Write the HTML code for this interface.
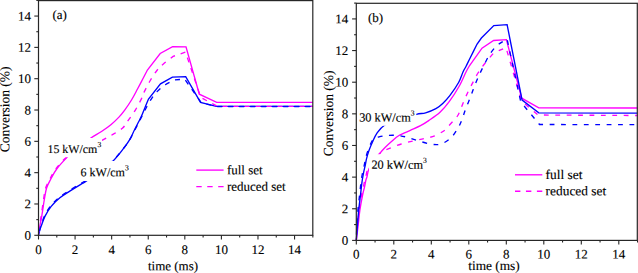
<!DOCTYPE html>
<html><head><meta charset="utf-8"><style>
html,body{margin:0;padding:0;background:#fff;width:638px;height:273px;overflow:hidden}
svg{display:block;font-family:"Liberation Serif",serif;fill:#111}
svg text{fill:#000;stroke:#000;stroke-width:0.13px}
</style></head><body>
<svg width="638" height="273" viewBox="0 0 638 273">
<path d="M38.50,235.30 C38.63,234.25 38.75,232.23 39.30,229.00 C39.85,225.77 40.95,220.90 41.80,215.90 C42.65,210.90 43.60,203.65 44.40,199.00 C45.20,194.35 45.55,191.28 46.60,188.00 C47.65,184.72 49.02,182.47 50.70,179.30 C52.38,176.13 53.98,172.65 56.70,169.00 C59.42,165.35 63.45,161.07 67.00,157.40 C70.55,153.73 74.08,150.20 78.00,147.00 C81.92,143.80 86.58,140.78 90.50,138.20 C94.42,135.62 98.10,133.75 101.50,131.50 C104.90,129.25 108.03,127.05 110.90,124.70 C113.77,122.35 116.40,119.83 118.70,117.40 C121.00,114.97 122.57,113.00 124.70,110.10 C126.83,107.20 129.37,103.52 131.50,100.00 C133.63,96.48 135.67,92.42 137.50,89.00 C139.33,85.58 140.85,82.67 142.50,79.50 C144.15,76.33 146.58,71.58 147.40,70.00 L160.20,53.50 L172.60,46.60 L186.00,46.80 L199.30,94.20 L216.70,102.30 L312.80,102.30" fill="none" stroke="#ff00ff" stroke-width="1.35" stroke-linejoin="miter"/>
<path d="M38.50,235.30 C38.72,234.42 39.25,231.80 39.80,230.00 C40.35,228.20 40.90,226.85 41.80,224.50 C42.70,222.15 43.63,218.92 45.20,215.90 C46.77,212.88 48.75,209.42 51.20,206.40 C53.65,203.38 56.73,200.38 59.90,197.80 C63.07,195.22 66.72,193.15 70.20,190.90 C73.68,188.65 78.08,185.95 80.80,184.30 C83.52,182.65 83.30,183.22 86.50,181.00 C89.70,178.78 95.58,174.33 100.00,171.00 C104.42,167.67 109.07,164.77 113.00,161.00 C116.93,157.23 120.87,151.87 123.60,148.40 C126.33,144.93 127.62,143.22 129.40,140.20 C131.18,137.18 132.78,133.33 134.30,130.30 C135.82,127.27 137.30,124.38 138.50,122.00 C139.70,119.62 140.37,118.55 141.50,116.00 C142.63,113.45 144.13,109.53 145.30,106.70 C146.47,103.87 147.97,100.28 148.50,99.00 L160.50,83.80 L172.40,77.10 L185.70,76.60 L200.50,102.30 L216.20,106.40 L312.80,106.40" fill="none" stroke="#0000ff" stroke-width="1.35" stroke-linejoin="miter"/>
<path d="M38.50,235.30 C38.60,234.25 38.65,232.23 39.10,229.00 C39.55,225.77 40.45,220.90 41.20,215.90 C41.95,210.90 42.85,203.65 43.60,199.00 C44.35,194.35 44.67,191.28 45.70,188.00 C46.73,184.72 48.12,182.47 49.80,179.30 C51.48,176.13 53.02,172.65 55.80,169.00 C58.58,165.35 62.47,160.57 66.50,157.40 C70.53,154.23 75.75,152.07 80.00,150.00 C84.25,147.93 88.27,146.65 92.00,145.00 C95.73,143.35 98.92,141.87 102.40,140.10 C105.88,138.33 109.57,136.38 112.90,134.40 C116.23,132.42 120.03,130.27 122.40,128.20 C124.77,126.13 124.92,125.07 127.10,122.00 C129.28,118.93 133.12,113.65 135.50,109.80 C137.88,105.95 139.98,101.80 141.40,98.90 C142.82,96.00 142.57,95.38 144.00,92.40 C145.43,89.42 147.78,84.73 150.00,81.00 C152.22,77.27 155.07,72.83 157.30,70.00 C159.53,67.17 160.77,66.27 163.40,64.00 C166.03,61.73 171.48,57.67 173.10,56.40 L185.50,52.10 L200.80,97.50 L217.50,106.40 L312.80,106.40" fill="none" stroke="#ff00ff" stroke-width="1.35" stroke-linejoin="miter" stroke-dasharray="5 6" stroke-dashoffset="7.60" id="amd"/>
<path d="M38.50,235.30 C38.68,234.42 39.12,231.80 39.60,230.00 C40.08,228.20 40.55,226.90 41.40,224.50 C42.25,222.10 43.15,218.72 44.70,215.60 C46.25,212.48 48.23,208.88 50.70,205.80 C53.17,202.72 56.30,199.72 59.50,197.10 C62.70,194.48 66.38,192.37 69.90,190.10 C73.42,187.83 77.87,185.15 80.60,183.50 C83.33,181.85 83.07,182.40 86.30,180.20 C89.53,178.00 95.55,173.58 100.00,170.30 C104.45,167.02 109.03,164.22 113.00,160.50 C116.97,156.78 121.00,151.47 123.80,148.00 C126.60,144.53 127.97,142.70 129.80,139.70 C131.63,136.70 133.27,132.95 134.80,130.00 C136.33,127.05 137.77,124.37 139.00,122.00 C140.23,119.63 141.10,117.97 142.20,115.80 C143.30,113.63 144.23,111.58 145.60,109.00 C146.97,106.42 148.53,103.15 150.40,100.30 C152.27,97.45 154.32,94.48 156.80,91.90 C159.28,89.32 162.30,86.80 165.30,84.80 C168.30,82.80 173.22,80.72 174.80,79.90 L184.70,79.20 L201.50,103.00 L217.50,106.50 L312.80,106.50" fill="none" stroke="#0000ff" stroke-width="1.35" stroke-linejoin="miter" stroke-dasharray="5 6" stroke-dashoffset="6.82" id="abd"/>
<rect x="45" y="138" width="57.00" height="19.20" fill="#fff"/><text x="47.50" y="152.90" font-size="11.9" transform="rotate(0.05 47.50 152.90)">15 kW/cm<tspan font-size="7.6" dy="-6">3</tspan></text>
<rect x="78" y="161" width="53.00" height="20.00" fill="#fff"/><text x="80.60" y="176.20" font-size="12.0" transform="rotate(0.05 80.60 176.20)">6 kW/cm<tspan font-size="7.6" dy="-6">3</tspan></text>
<rect x="38.5" y="0.6" width="274.30" height="234.70" fill="none" stroke="#262626" stroke-width="1.2"/>
<line x1="38.50" y1="235.3" x2="38.50" y2="239.50" stroke="#262626" stroke-width="1.1"/>
<text x="38.50" y="254.00" font-size="13" text-anchor="middle" transform="rotate(0.05 38.50 254.00)">0</text>
<line x1="56.79" y1="235.3" x2="56.79" y2="237.50" stroke="#262626" stroke-width="1.1"/>
<line x1="75.08" y1="235.3" x2="75.08" y2="239.50" stroke="#262626" stroke-width="1.1"/>
<text x="75.08" y="254.00" font-size="13" text-anchor="middle" transform="rotate(0.05 75.08 254.00)">2</text>
<line x1="93.37" y1="235.3" x2="93.37" y2="237.50" stroke="#262626" stroke-width="1.1"/>
<line x1="111.66" y1="235.3" x2="111.66" y2="239.50" stroke="#262626" stroke-width="1.1"/>
<text x="111.66" y="254.00" font-size="13" text-anchor="middle" transform="rotate(0.05 111.66 254.00)">4</text>
<line x1="129.95" y1="235.3" x2="129.95" y2="237.50" stroke="#262626" stroke-width="1.1"/>
<line x1="148.24" y1="235.3" x2="148.24" y2="239.50" stroke="#262626" stroke-width="1.1"/>
<text x="148.24" y="254.00" font-size="13" text-anchor="middle" transform="rotate(0.05 148.24 254.00)">6</text>
<line x1="166.53" y1="235.3" x2="166.53" y2="237.50" stroke="#262626" stroke-width="1.1"/>
<line x1="184.82" y1="235.3" x2="184.82" y2="239.50" stroke="#262626" stroke-width="1.1"/>
<text x="184.82" y="254.00" font-size="13" text-anchor="middle" transform="rotate(0.05 184.82 254.00)">8</text>
<line x1="203.11" y1="235.3" x2="203.11" y2="237.50" stroke="#262626" stroke-width="1.1"/>
<line x1="221.40" y1="235.3" x2="221.40" y2="239.50" stroke="#262626" stroke-width="1.1"/>
<text x="221.40" y="254.00" font-size="13" text-anchor="middle" transform="rotate(0.05 221.40 254.00)">10</text>
<line x1="239.69" y1="235.3" x2="239.69" y2="237.50" stroke="#262626" stroke-width="1.1"/>
<line x1="257.98" y1="235.3" x2="257.98" y2="239.50" stroke="#262626" stroke-width="1.1"/>
<text x="257.98" y="254.00" font-size="13" text-anchor="middle" transform="rotate(0.05 257.98 254.00)">12</text>
<line x1="276.27" y1="235.3" x2="276.27" y2="237.50" stroke="#262626" stroke-width="1.1"/>
<line x1="294.56" y1="235.3" x2="294.56" y2="239.50" stroke="#262626" stroke-width="1.1"/>
<text x="294.56" y="254.00" font-size="13" text-anchor="middle" transform="rotate(0.05 294.56 254.00)">14</text>
<line x1="312.85" y1="235.3" x2="312.85" y2="237.50" stroke="#262626" stroke-width="1.1"/>
<line x1="38.5" y1="235.30" x2="34.30" y2="235.30" stroke="#262626" stroke-width="1.1"/>
<text x="31.00" y="239.70" font-size="13" text-anchor="end" transform="rotate(0.05 31.00 239.70)">0</text>
<line x1="38.5" y1="219.64" x2="36.30" y2="219.64" stroke="#262626" stroke-width="1.1"/>
<line x1="38.5" y1="203.98" x2="34.30" y2="203.98" stroke="#262626" stroke-width="1.1"/>
<text x="31.00" y="208.38" font-size="13" text-anchor="end" transform="rotate(0.05 31.00 208.38)">2</text>
<line x1="38.5" y1="188.32" x2="36.30" y2="188.32" stroke="#262626" stroke-width="1.1"/>
<line x1="38.5" y1="172.66" x2="34.30" y2="172.66" stroke="#262626" stroke-width="1.1"/>
<text x="31.00" y="177.06" font-size="13" text-anchor="end" transform="rotate(0.05 31.00 177.06)">4</text>
<line x1="38.5" y1="157.00" x2="36.30" y2="157.00" stroke="#262626" stroke-width="1.1"/>
<line x1="38.5" y1="141.34" x2="34.30" y2="141.34" stroke="#262626" stroke-width="1.1"/>
<text x="31.00" y="145.74" font-size="13" text-anchor="end" transform="rotate(0.05 31.00 145.74)">6</text>
<line x1="38.5" y1="125.68" x2="36.30" y2="125.68" stroke="#262626" stroke-width="1.1"/>
<line x1="38.5" y1="110.02" x2="34.30" y2="110.02" stroke="#262626" stroke-width="1.1"/>
<text x="31.00" y="114.42" font-size="13" text-anchor="end" transform="rotate(0.05 31.00 114.42)">8</text>
<line x1="38.5" y1="94.36" x2="36.30" y2="94.36" stroke="#262626" stroke-width="1.1"/>
<line x1="38.5" y1="78.70" x2="34.30" y2="78.70" stroke="#262626" stroke-width="1.1"/>
<text x="31.00" y="83.10" font-size="13" text-anchor="end" transform="rotate(0.05 31.00 83.10)">10</text>
<line x1="38.5" y1="63.04" x2="36.30" y2="63.04" stroke="#262626" stroke-width="1.1"/>
<line x1="38.5" y1="47.38" x2="34.30" y2="47.38" stroke="#262626" stroke-width="1.1"/>
<text x="31.00" y="51.78" font-size="13" text-anchor="end" transform="rotate(0.05 31.00 51.78)">12</text>
<line x1="38.5" y1="31.72" x2="36.30" y2="31.72" stroke="#262626" stroke-width="1.1"/>
<line x1="38.5" y1="16.06" x2="34.30" y2="16.06" stroke="#262626" stroke-width="1.1"/>
<text x="31.00" y="20.46" font-size="13" text-anchor="end" transform="rotate(0.05 31.00 20.46)">14</text>
<line x1="38.5" y1="0.40" x2="36.30" y2="0.40" stroke="#262626" stroke-width="1.1"/>
<text x="52.50" y="19.10" font-size="13" transform="rotate(0.05 52.50 19.10)">(a)</text>
<line x1="196.3" y1="170.1" x2="223.60000000000002" y2="170.1" stroke="#ff00ff" stroke-width="1.35"/>
<line x1="196.3" y1="186.6" x2="223.60000000000002" y2="186.6" stroke="#ff00ff" stroke-width="1.35" stroke-dasharray="5.4 5.55"/>
<text x="226.90" y="174.20" font-size="13" transform="rotate(0.05 226.90 174.20)">full set</text>
<text x="226.90" y="190.70" font-size="13" transform="rotate(0.05 226.90 190.70)">reduced set</text>
<text x="173.00" y="270.30" font-size="13" text-anchor="middle" transform="rotate(0.05 173.00 270.30)">time (ms)</text>
<text transform="translate(9.2,109.4) rotate(-89.95)" text-anchor="middle" font-size="13.5">Conversion (%)</text>
<path d="M356.30,240.40 C356.62,237.83 357.60,230.07 358.20,225.00 C358.80,219.93 359.17,215.00 359.90,210.00 C360.63,205.00 361.83,198.83 362.60,195.00 C363.37,191.17 363.95,189.50 364.50,187.00 C365.05,184.50 365.50,181.65 365.90,180.00 C366.30,178.35 366.40,178.93 366.90,177.10 C367.40,175.27 367.72,171.68 368.90,169.00 C370.08,166.32 372.28,163.48 374.00,161.00 C375.72,158.52 377.32,156.38 379.20,154.10 C381.08,151.82 383.20,149.45 385.30,147.30 C387.40,145.15 389.52,143.17 391.80,141.20 C394.08,139.23 395.92,137.30 399.00,135.50 C402.08,133.70 406.72,132.03 410.30,130.40 C413.88,128.77 417.43,127.33 420.50,125.70 C423.57,124.07 425.45,122.83 428.70,120.60 C431.95,118.37 436.58,115.45 440.00,112.30 C443.42,109.15 446.03,106.00 449.20,101.70 C452.37,97.40 456.20,91.45 459.00,86.50 C461.80,81.55 464.23,75.50 466.00,72.00 C467.77,68.50 469.00,66.58 469.60,65.50 L482.00,48.20 L493.60,40.50 L506.40,39.60 L521.70,98.20 L538.80,107.90 L637.30,108.00" fill="none" stroke="#ff00ff" stroke-width="1.35" stroke-linejoin="miter"/>
<path d="M356.30,240.40 C356.52,237.83 357.15,230.07 357.60,225.00 C358.05,219.93 358.33,215.00 359.00,210.00 C359.67,205.00 360.87,198.83 361.60,195.00 C362.33,191.17 362.87,189.50 363.40,187.00 C363.93,184.50 364.40,181.65 364.80,180.00 C365.20,178.35 365.30,178.93 365.80,177.10 C366.30,175.27 366.43,171.77 367.80,169.00 C369.17,166.23 371.88,163.20 374.00,160.50 C376.12,157.80 377.92,154.83 380.50,152.80 C383.08,150.77 386.03,149.77 389.50,148.30 C392.97,146.83 397.42,145.22 401.30,144.00 C405.18,142.78 408.95,141.92 412.80,141.00 C416.65,140.08 420.77,139.35 424.40,138.50 C428.03,137.65 431.18,137.30 434.60,135.90 C438.02,134.50 442.57,131.75 444.90,130.10 C447.23,128.45 446.92,127.85 448.60,126.00 C450.28,124.15 453.42,120.83 455.00,119.00 C456.58,117.17 457.22,116.50 458.10,115.00 C458.98,113.50 459.37,112.25 460.30,110.00 C461.23,107.75 462.37,104.62 463.70,101.50 C465.03,98.38 466.78,94.45 468.30,91.30 C469.82,88.15 471.18,85.65 472.80,82.60 C474.42,79.55 476.00,76.18 478.00,73.00 C480.00,69.82 482.20,66.83 484.80,63.50 C487.40,60.17 492.13,54.75 493.60,53.00 L506.00,47.50 L521.50,101.00 L538.00,115.00 L637.30,115.50" fill="none" stroke="#ff00ff" stroke-width="1.35" stroke-linejoin="miter" stroke-dasharray="4.8 6.6" stroke-dashoffset="2.68" id="bmd"/>
<path d="M356.30,240.40 C356.50,237.83 357.10,230.07 357.50,225.00 C357.90,219.93 358.20,215.00 358.70,210.00 C359.20,205.00 359.95,199.67 360.50,195.00 C361.05,190.33 361.50,185.65 362.00,182.00 C362.50,178.35 362.95,175.93 363.50,173.10 C364.05,170.27 364.80,167.38 365.30,165.00 C365.80,162.62 365.92,161.13 366.50,158.80 C367.08,156.47 367.80,153.80 368.80,151.00 C369.80,148.20 371.13,144.97 372.50,142.00 C373.87,139.03 375.00,136.00 377.00,133.20 C379.00,130.40 380.67,127.57 384.50,125.20 C388.33,122.83 394.68,120.82 400.00,119.00 C405.32,117.18 412.13,115.33 416.40,114.30 C420.67,113.27 422.35,113.73 425.60,112.80 C428.85,111.87 433.00,110.30 435.90,108.70 C438.80,107.10 440.68,105.37 443.00,103.20 C445.32,101.03 447.20,99.15 449.80,95.70 C452.40,92.25 456.40,86.45 458.60,82.50 C460.80,78.55 461.73,74.75 463.00,72.00 C464.27,69.25 464.95,68.47 466.20,66.00 C467.45,63.53 468.68,60.87 470.50,57.20 C472.32,53.53 476.00,46.20 477.10,44.00 L481.40,38.00 L493.80,25.60 L507.10,24.70 L522.10,100.10 L538.80,112.80 L637.30,113.10" fill="none" stroke="#0000ff" stroke-width="1.35" stroke-linejoin="miter"/>
<path d="M356.30,240.40 C356.40,237.83 356.63,230.07 356.90,225.00 C357.17,219.93 357.45,215.00 357.90,210.00 C358.35,205.00 359.08,199.67 359.60,195.00 C360.12,190.33 360.52,185.65 361.00,182.00 C361.48,178.35 361.95,175.93 362.50,173.10 C363.05,170.27 363.80,167.38 364.30,165.00 C364.80,162.62 364.92,161.13 365.50,158.80 C366.08,156.47 366.80,153.80 367.80,151.00 C368.80,148.20 370.38,144.08 371.50,142.00 C372.62,139.92 373.25,139.37 374.50,138.50 C375.75,137.63 376.92,137.30 379.00,136.80 C381.08,136.30 383.83,135.72 387.00,135.50 C390.17,135.28 394.50,135.17 398.00,135.50 C401.50,135.83 404.50,136.58 408.00,137.50 C411.50,138.42 415.17,139.88 419.00,141.00 C422.83,142.12 427.33,143.70 431.00,144.20 C434.67,144.70 437.67,145.07 441.00,144.00 C444.33,142.93 448.17,140.47 451.00,137.80 C453.83,135.13 456.17,131.03 458.00,128.00 C459.83,124.97 460.78,122.60 462.00,119.60 C463.22,116.60 463.90,113.75 465.30,110.00 C466.70,106.25 468.88,101.03 470.40,97.10 C471.92,93.17 473.00,89.93 474.40,86.40 C475.80,82.87 477.27,79.30 478.80,75.90 C480.33,72.50 481.80,69.57 483.60,66.00 C485.40,62.43 487.40,57.93 489.60,54.50 C491.80,51.07 495.60,46.92 496.80,45.40 L507.00,38.80 L520.80,102.00 L539.50,124.50 L637.30,124.70" fill="none" stroke="#0000ff" stroke-width="1.35" stroke-linejoin="miter" stroke-dasharray="4.8 6.6" stroke-dashoffset="5.57" id="bbd"/>
<rect x="357.2" y="106" width="59.10" height="19.80" fill="#fff"/><text x="359.20" y="121.40" font-size="12.3" transform="rotate(0.05 359.20 121.40)">30 kW/cm<tspan font-size="7.6" dy="-6">3</tspan></text>
<rect x="369" y="154.2" width="60.00" height="18.80" fill="#fff"/><text x="371.40" y="168.80" font-size="12.3" transform="rotate(0.05 371.40 168.80)">20 kW/cm<tspan font-size="7.6" dy="-6">3</tspan></text>
<rect x="356.3" y="3.3" width="281.00" height="237.10" fill="none" stroke="#262626" stroke-width="1.2"/>
<line x1="356.30" y1="240.4" x2="356.30" y2="244.60" stroke="#262626" stroke-width="1.1"/>
<text x="356.30" y="258.60" font-size="13" text-anchor="middle" transform="rotate(0.05 356.30 258.60)">0</text>
<line x1="375.05" y1="240.4" x2="375.05" y2="242.60" stroke="#262626" stroke-width="1.1"/>
<line x1="393.80" y1="240.4" x2="393.80" y2="244.60" stroke="#262626" stroke-width="1.1"/>
<text x="393.80" y="258.60" font-size="13" text-anchor="middle" transform="rotate(0.05 393.80 258.60)">2</text>
<line x1="412.55" y1="240.4" x2="412.55" y2="242.60" stroke="#262626" stroke-width="1.1"/>
<line x1="431.30" y1="240.4" x2="431.30" y2="244.60" stroke="#262626" stroke-width="1.1"/>
<text x="431.30" y="258.60" font-size="13" text-anchor="middle" transform="rotate(0.05 431.30 258.60)">4</text>
<line x1="450.05" y1="240.4" x2="450.05" y2="242.60" stroke="#262626" stroke-width="1.1"/>
<line x1="468.80" y1="240.4" x2="468.80" y2="244.60" stroke="#262626" stroke-width="1.1"/>
<text x="468.80" y="258.60" font-size="13" text-anchor="middle" transform="rotate(0.05 468.80 258.60)">6</text>
<line x1="487.55" y1="240.4" x2="487.55" y2="242.60" stroke="#262626" stroke-width="1.1"/>
<line x1="506.30" y1="240.4" x2="506.30" y2="244.60" stroke="#262626" stroke-width="1.1"/>
<text x="506.30" y="258.60" font-size="13" text-anchor="middle" transform="rotate(0.05 506.30 258.60)">8</text>
<line x1="525.05" y1="240.4" x2="525.05" y2="242.60" stroke="#262626" stroke-width="1.1"/>
<line x1="543.80" y1="240.4" x2="543.80" y2="244.60" stroke="#262626" stroke-width="1.1"/>
<text x="543.80" y="258.60" font-size="13" text-anchor="middle" transform="rotate(0.05 543.80 258.60)">10</text>
<line x1="562.55" y1="240.4" x2="562.55" y2="242.60" stroke="#262626" stroke-width="1.1"/>
<line x1="581.30" y1="240.4" x2="581.30" y2="244.60" stroke="#262626" stroke-width="1.1"/>
<text x="581.30" y="258.60" font-size="13" text-anchor="middle" transform="rotate(0.05 581.30 258.60)">12</text>
<line x1="600.05" y1="240.4" x2="600.05" y2="242.60" stroke="#262626" stroke-width="1.1"/>
<line x1="618.80" y1="240.4" x2="618.80" y2="244.60" stroke="#262626" stroke-width="1.1"/>
<text x="618.80" y="258.60" font-size="13" text-anchor="middle" transform="rotate(0.05 618.80 258.60)">14</text>
<line x1="637.55" y1="240.4" x2="637.55" y2="242.60" stroke="#262626" stroke-width="1.1"/>
<line x1="356.3" y1="240.40" x2="352.10" y2="240.40" stroke="#262626" stroke-width="1.1"/>
<text x="348.20" y="244.80" font-size="13" text-anchor="end" transform="rotate(0.05 348.20 244.80)">0</text>
<line x1="356.3" y1="224.58" x2="354.10" y2="224.58" stroke="#262626" stroke-width="1.1"/>
<line x1="356.3" y1="208.76" x2="352.10" y2="208.76" stroke="#262626" stroke-width="1.1"/>
<text x="348.20" y="213.16" font-size="13" text-anchor="end" transform="rotate(0.05 348.20 213.16)">2</text>
<line x1="356.3" y1="192.94" x2="354.10" y2="192.94" stroke="#262626" stroke-width="1.1"/>
<line x1="356.3" y1="177.12" x2="352.10" y2="177.12" stroke="#262626" stroke-width="1.1"/>
<text x="348.20" y="181.52" font-size="13" text-anchor="end" transform="rotate(0.05 348.20 181.52)">4</text>
<line x1="356.3" y1="161.30" x2="354.10" y2="161.30" stroke="#262626" stroke-width="1.1"/>
<line x1="356.3" y1="145.48" x2="352.10" y2="145.48" stroke="#262626" stroke-width="1.1"/>
<text x="348.20" y="149.88" font-size="13" text-anchor="end" transform="rotate(0.05 348.20 149.88)">6</text>
<line x1="356.3" y1="129.66" x2="354.10" y2="129.66" stroke="#262626" stroke-width="1.1"/>
<line x1="356.3" y1="113.84" x2="352.10" y2="113.84" stroke="#262626" stroke-width="1.1"/>
<text x="348.20" y="118.24" font-size="13" text-anchor="end" transform="rotate(0.05 348.20 118.24)">8</text>
<line x1="356.3" y1="98.02" x2="354.10" y2="98.02" stroke="#262626" stroke-width="1.1"/>
<line x1="356.3" y1="82.20" x2="352.10" y2="82.20" stroke="#262626" stroke-width="1.1"/>
<text x="348.20" y="86.60" font-size="13" text-anchor="end" transform="rotate(0.05 348.20 86.60)">10</text>
<line x1="356.3" y1="66.38" x2="354.10" y2="66.38" stroke="#262626" stroke-width="1.1"/>
<line x1="356.3" y1="50.56" x2="352.10" y2="50.56" stroke="#262626" stroke-width="1.1"/>
<text x="348.20" y="54.96" font-size="13" text-anchor="end" transform="rotate(0.05 348.20 54.96)">12</text>
<line x1="356.3" y1="34.74" x2="354.10" y2="34.74" stroke="#262626" stroke-width="1.1"/>
<line x1="356.3" y1="18.92" x2="352.10" y2="18.92" stroke="#262626" stroke-width="1.1"/>
<text x="348.20" y="23.32" font-size="13" text-anchor="end" transform="rotate(0.05 348.20 23.32)">14</text>
<line x1="356.3" y1="3.10" x2="354.10" y2="3.10" stroke="#262626" stroke-width="1.1"/>
<text x="368.00" y="22.10" font-size="13" transform="rotate(0.05 368.00 22.10)">(b)</text>
<line x1="515" y1="174.8" x2="542.3" y2="174.8" stroke="#ff00ff" stroke-width="1.35"/>
<line x1="515" y1="191.2" x2="542.3" y2="191.2" stroke="#ff00ff" stroke-width="1.35" stroke-dasharray="5.4 5.55"/>
<text x="545.60" y="178.90" font-size="13.4" transform="rotate(0.05 545.60 178.90)">full set</text>
<text x="545.60" y="195.30" font-size="13.4" transform="rotate(0.05 545.60 195.30)">reduced set</text>
<text x="494.00" y="270.00" font-size="13.35" text-anchor="middle" transform="rotate(0.05 494.00 270.00)">time (ms)</text>
<text transform="translate(332.9,113.4) rotate(-89.95)" text-anchor="middle" font-size="13.5">Conversion (%)</text>
</svg>
</body></html>
